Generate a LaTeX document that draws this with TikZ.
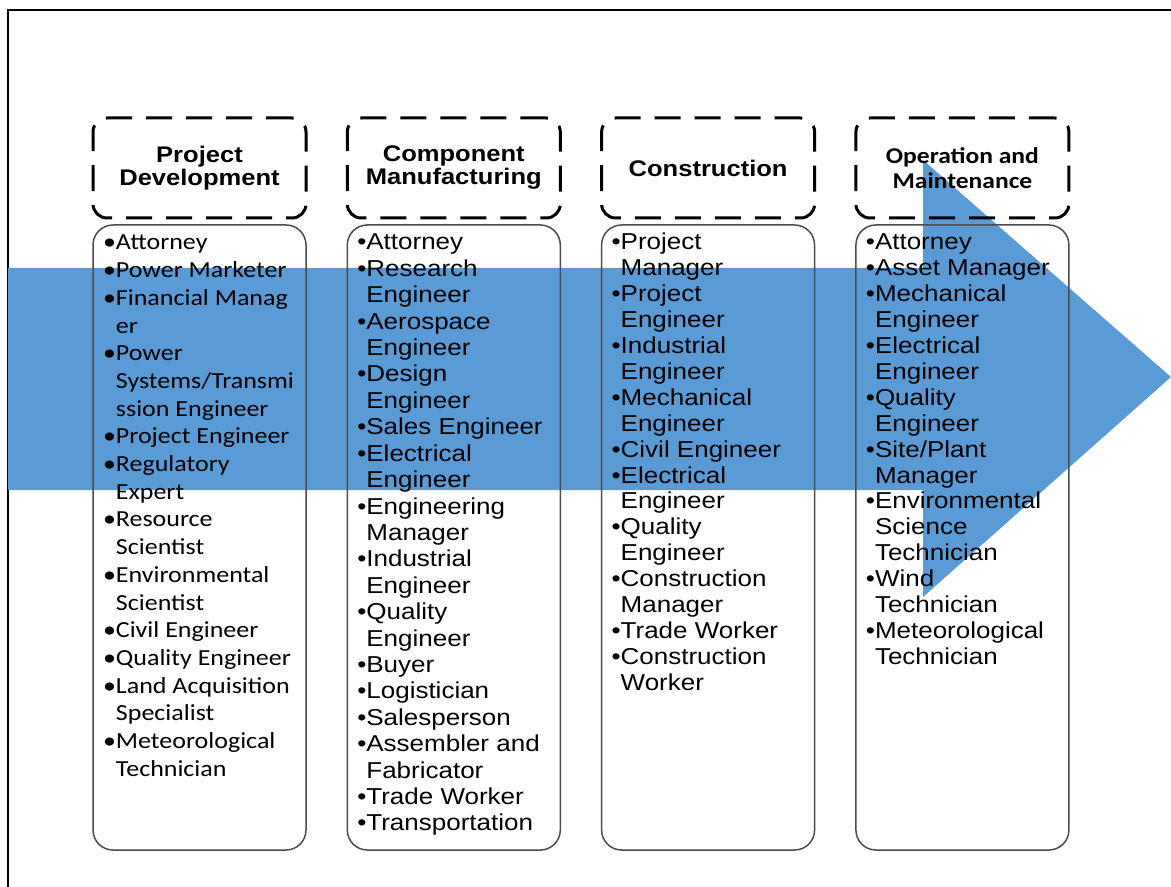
\documentclass[tikz,border=0pt]{standalone}
\usepackage{fontspec}
\usepackage{tikz}
\usetikzlibrary{positioning}

\newfontfamily\arialf[FakeStretch=1.13]{Liberation Sans}
\newfontfamily\calf[FakeStretch=1.13]{Carlito}
\definecolor{arrowblue}{RGB}{91,155,213}

\begin{document}
\begin{tikzpicture}[x=0.5pt, y=-0.5pt, node distance=127.15pt,
    inner sep=0pt, outer sep=0pt, align=center]

  \tikzstyle{head}=[draw, line width=1.5pt, dash pattern=on 13pt off 7pt,
    rounded corners=7pt, minimum width=106.5pt, minimum height=50pt,
    font=\arialf\bfseries\fontsize{11.3}{11.5}\selectfont]
  \tikzstyle{listbox}=[draw=black!70, line width=0.75pt, rounded corners=10pt,
    minimum width=106.5pt, minimum height=312.5pt]
  \tikzstyle{jobs}=[anchor=base west, align=left]

  \useasboundingbox (0,0) rectangle (1171,887);
  \draw[line width=1pt] (1171,10) -- (8,10) -- (8,887);

  % big arrow behind the four columns
  \fill[arrowblue] (8,268) -- (923,268) -- (923,160) -- (1171,377)
  -- (923,597) -- (923,490) -- (8,490) -- cycle;

  \node[head] (DEV) at (199.5,168) {Project\\Development};
  \node[head] (MFG) [right of=DEV] {Component\\Manufacturing};
  \node[head] (CON) [right of=MFG] {Construction};
  \node[head, font=\calf\bfseries\fontsize{11.3}{12.5}\selectfont]
  (OM) [right of=CON] {Operation and\\Maintenance};

  \node[listbox, node distance=184.75pt] (DEVL) [below of=DEV] {};
  \node[listbox, node distance=184.75pt] (MFGL) [below of=MFG] {};
  \node[listbox, node distance=184.75pt] (CONL) [below of=CON] {};
  \node[listbox, node distance=184.75pt] (OML) [below of=OM] {};

  \node[jobs, font=\calf\fontsize{11.5}{13.85}\selectfont] (DEVT)
  at ([xshift=5pt, yshift=-12.5pt]DEVL.north west) {%
    \begin{tabular}[t]{@{}l@{}l@{}}
      \textbullet & Attorney\\
      \textbullet & Power Marketer\\
      \textbullet & Financial Manag\\
                  & er\\
      \textbullet & Power\\
                  & Systems/Transmi\\
                  & ssion Engineer\\
      \textbullet & Project Engineer\\
      \textbullet & Regulatory\\
                  & Expert\\
      \textbullet & Resource\\
                  & Scientist\\
      \textbullet & Environmental\\
                  & Scientist\\
      \textbullet & Civil Engineer\\
      \textbullet & Quality Engineer\\
      \textbullet & Land Acquisition\\
                  & Specialist\\
      \textbullet & Meteorological\\
                  & Technician
    \end{tabular}};

  \node[jobs, font=\arialf\fontsize{11.5}{13.2}\selectfont] (MFGT)
  at ([xshift=5pt, yshift=-12.5pt]MFGL.north west) {%
    \begin{tabular}[t]{@{}l@{}l@{}}
      \textbullet & Attorney\\
      \textbullet & Research\\
                  & Engineer\\
      \textbullet & Aerospace\\
                  & Engineer\\
      \textbullet & Design\\
                  & Engineer\\
      \textbullet & Sales Engineer\\
      \textbullet & Electrical\\
                  & Engineer\\
      \textbullet & Engineering\\
                  & Manager\\
      \textbullet & Industrial\\
                  & Engineer\\
      \textbullet & Quality\\
                  & Engineer\\
      \textbullet & Buyer\\
      \textbullet & Logistician\\
      \textbullet & Salesperson\\
      \textbullet & Assembler and\\
                  & Fabricator\\
      \textbullet & Trade Worker\\
      \textbullet & Transportation
    \end{tabular}};

  \node[jobs, font=\arialf\fontsize{11.5}{12.95}\selectfont] (CONT)
  at ([xshift=5pt, yshift=-12.5pt]CONL.north west) {%
    \begin{tabular}[t]{@{}l@{}l@{}}
      \textbullet & Project\\
                  & Manager\\
      \textbullet & Project\\
                  & Engineer\\
      \textbullet & Industrial\\
                  & Engineer\\
      \textbullet & Mechanical\\
                  & Engineer\\
      \textbullet & Civil Engineer\\
      \textbullet & Electrical\\
                  & Engineer\\
      \textbullet & Quality\\
                  & Engineer\\
      \textbullet & Construction\\
                  & Manager\\
      \textbullet & Trade Worker\\
      \textbullet & Construction\\
                  & Worker
    \end{tabular}};

  \node[jobs, font=\arialf\fontsize{11.5}{12.95}\selectfont] (OMT)
  at ([xshift=5pt, yshift=-12.5pt]OML.north west) {%
    \begin{tabular}[t]{@{}l@{}l@{}}
      \textbullet & Attorney\\
      \textbullet & Asset Manager\\
      \textbullet & Mechanical\\
                  & Engineer\\
      \textbullet & Electrical\\
                  & Engineer\\
      \textbullet & Quality\\
                  & Engineer\\
      \textbullet & Site/Plant\\
                  & Manager\\
      \textbullet & Environmental\\
                  & Science\\
                  & Technician\\
      \textbullet & Wind\\
                  & Technician\\
      \textbullet & Meteorological\\
                  & Technician
    \end{tabular}};
\end{tikzpicture}
\end{document}
